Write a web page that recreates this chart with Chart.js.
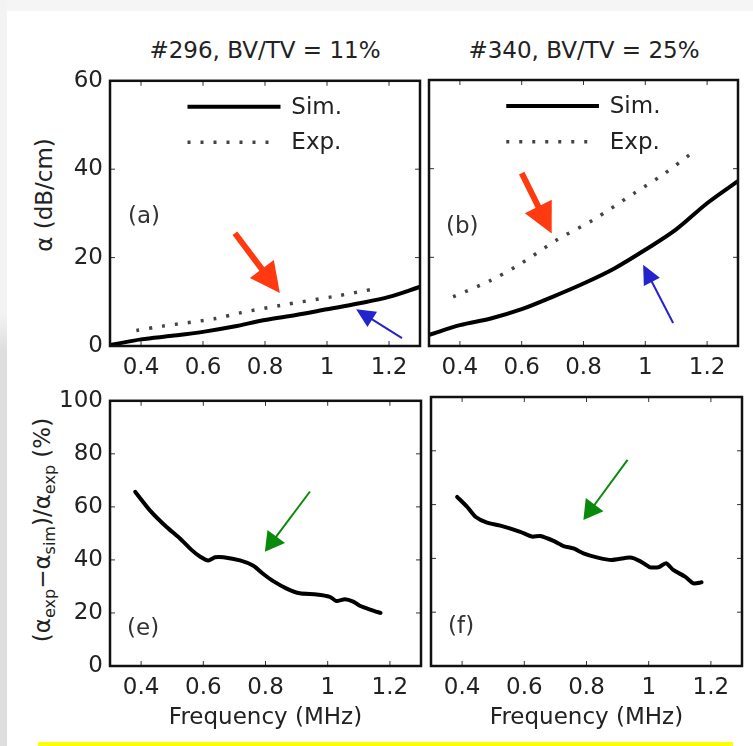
<!DOCTYPE html>
<html>
<head>
<meta charset="utf-8">
<script src="https://cdn.jsdelivr.net/npm/chart.js@4.4.0/dist/chart.umd.min.js"></script>
<style>
  body { margin: 0; background: #fff; }
  #page { position: relative; width: 753px; height: 746px; overflow: hidden; background: #fff;
          font-family: "DejaVu Sans", sans-serif; color: #222; }
  #page canvas { position: absolute; }
  .lbl { position: absolute; white-space: nowrap; font-size: 23px; transform: translate(-50%, -50%); }
  .rot { transform: translate(-50%, -50%) rotate(-90deg); }
  .lbl sub { font-size: 16px; vertical-align: -5px; line-height: 0; }
  #topband { position: absolute; left: 0; top: 0; width: 753px; height: 11px; background: #f5f5f5; }
  #leftstrip { position: absolute; left: 0; top: 0; width: 7px; height: 746px;
               background: linear-gradient(to bottom, #f3f3f3 0%, #f3f3f3 42%, #dedede 47%, #dedede 100%); }
  #yellow { position: absolute; left: 38px; top: 742px; width: 695px; height: 4px; background: #ffff00; }
</style>
</head>
<body>
<div id="page">
  <div id="topband"></div>
  <div id="leftstrip"></div>
  <div id="yellow"></div>

  <div class="lbl" style="left:265px; top:50px;">#296, BV/TV = 11%</div>
  <div class="lbl" style="left:584px; top:50px;">#340, BV/TV = 25%</div>
  <div class="lbl rot" style="left:44px; top:195px;">α (dB/cm)</div>
  <div class="lbl rot" style="left:42px; top:530px;">(α<sub>exp</sub>−α<sub>sim</sub>)/α<sub>exp</sub> (%)</div>

  <canvas id="cA" width="424" height="320" style="left:0; top:60px;"></canvas>
  <canvas id="cB" width="329" height="320" style="left:424px; top:60px;"></canvas>
  <canvas id="cE" width="426" height="366" style="left:0; top:380px;"></canvas>
  <canvas id="cF" width="327" height="366" style="left:426px; top:380px;"></canvas>
</div>

<script>
const xTicks = [0.4, 0.6, 0.8, 1, 1.2];
const yTicksTop = [0, 20, 40, 60];
const yTicksBottom = [0, 20, 40, 60, 80, 100];

// (a) #296, attenuation in dB/cm
const freqSimA = [0.3, 0.4, 0.5, 0.6, 0.7, 0.8, 0.9, 1.0, 1.1, 1.2, 1.3];
const simA = [0.2, 1.5, 2.3, 3.2, 4.4, 5.9, 7.0, 8.3, 9.6, 11.1, 13.4];
const freqExpA = [0.385, 0.47, 0.64, 0.72, 0.85, 1.03, 1.16];
const expA = [3.5, 4.5, 6.2, 7.5, 9.2, 11.3, 13.0];

// (b) #340
const freqSimB = [0.3, 0.4, 0.5, 0.6, 0.7, 0.8, 0.9, 1.0, 1.1, 1.2, 1.3];
const simB = [2.5, 4.7, 6.2, 8.3, 11.1, 14.1, 17.5, 21.7, 26.3, 32.2, 37.2];
const freqExpB = [0.378, 0.497, 0.6, 0.713, 0.83, 0.967, 1.06, 1.167];
const expB = [11.1, 14.7, 18.7, 23.9, 28.4, 34.6, 38.8, 44.4];

// (e) relative error, #296
const freqE = [0.381, 0.429, 0.482, 0.525, 0.563, 0.589, 0.616, 0.638, 0.665, 0.718, 0.761, 0.793,
               0.825, 0.868, 0.91, 0.964, 1.007, 1.028, 1.055, 1.082, 1.103, 1.141, 1.17];
const errE = [65.7, 58.6, 52.4, 48.1, 43.7, 41.3, 39.8, 41.0, 41.0, 39.8, 37.8, 34.7,
              32.0, 29.2, 27.4, 27.0, 26.1, 24.5, 25.2, 24.3, 22.7, 21.1, 20.0];

// (f) relative error, #340
const freqF = [0.384, 0.416, 0.443, 0.48, 0.523, 0.587, 0.625, 0.651, 0.694, 0.726, 0.758, 0.79,
               0.833, 0.881, 0.94, 0.972, 1.004, 1.031, 1.056, 1.079, 1.117, 1.144, 1.17];
const errF = [62.9, 59.2, 55.5, 53.3, 52.2, 49.9, 48.1, 48.3, 46.5, 44.6, 43.7, 41.9,
              40.4, 39.4, 40.3, 39.0, 36.7, 36.7, 38.2, 35.7, 33.2, 30.7, 31.1];

const FONT = { family: "DejaVu Sans", size: 23 };
const RED = "#ff3a10", BLUE = "#2424cc", GREEN = "#0a8a0a";
const DOTS = [3, 10];

function pts(xs, ys) {
  return xs.map((x, i) => ({ x: x, y: ys[i] }));
}

// frame, inward ticks, legend, panel letter and arrows
const panelDecor = {
  id: "panelDecor",
  afterDatasetsDraw(chart, args, opts) {
    const { ctx, chartArea: a, scales: { x, y } } = chart;
    const w = a.right - a.left, h = a.bottom - a.top;
    ctx.save();

    ctx.strokeStyle = "#333";
    ctx.lineWidth = 1;
    ctx.beginPath();
    x.ticks.forEach(t => {
      const px = x.getPixelForValue(t.value);
      ctx.moveTo(px, a.bottom); ctx.lineTo(px, a.bottom - 5);
      ctx.moveTo(px, a.top); ctx.lineTo(px, a.top + 5);
    });
    y.ticks.forEach(t => {
      const py = y.getPixelForValue(t.value);
      ctx.moveTo(a.left, py); ctx.lineTo(a.left + 5, py);
      ctx.moveTo(a.right, py); ctx.lineTo(a.right - 5, py);
    });
    ctx.stroke();

    ctx.lineWidth = 2.5;
    ctx.strokeStyle = "#111";
    ctx.strokeRect(a.left, a.top, w, h);

    ctx.fillStyle = "#222";
    ctx.font = FONT.size + "px " + FONT.family;
    ctx.textBaseline = "middle";
    ctx.textAlign = "left";

    if (opts.legend) {
      const x0 = a.left + 0.25 * w, x1 = a.left + 0.55 * w, tx = a.left + 0.585 * w;
      const r1 = a.top + 0.098 * h, r2 = a.top + 0.232 * h;
      ctx.strokeStyle = "#000";
      ctx.lineWidth = 4;
      ctx.beginPath(); ctx.moveTo(x0, r1); ctx.lineTo(x1, r1); ctx.stroke();
      ctx.strokeStyle = "#444";
      ctx.lineWidth = 3.5;
      ctx.setLineDash(DOTS);
      ctx.beginPath(); ctx.moveTo(x0, r2); ctx.lineTo(x1 - 8, r2); ctx.stroke();
      ctx.setLineDash([]);
      ctx.fillText("Sim.", tx, r1 + 1);
      ctx.fillText("Exp.", tx, r2 + 1);
    }

    if (opts.letter) {
      ctx.fillStyle = "#333";
      ctx.fillText(opts.letter, a.left + opts.letterPos[0] * w, a.top + opts.letterPos[1] * h);
    }

    (opts.arrows || []).forEach(ar => {
      const x1 = x.getPixelForValue(ar.from[0]), y1 = y.getPixelForValue(ar.from[1]);
      const x2 = x.getPixelForValue(ar.to[0]), y2 = y.getPixelForValue(ar.to[1]);
      const len = Math.hypot(x2 - x1, y2 - y1);
      const ux = (x2 - x1) / len, uy = (y2 - y1) / len;
      const bx = x2 - ux * ar.head, by = y2 - uy * ar.head;
      ctx.strokeStyle = ar.color;
      ctx.fillStyle = ar.color;
      ctx.lineWidth = ar.width;
      ctx.beginPath(); ctx.moveTo(x1, y1); ctx.lineTo(bx + ux * 2, by + uy * 2); ctx.stroke();
      ctx.beginPath();
      ctx.moveTo(x2, y2);
      ctx.lineTo(bx - uy * ar.half, by + ux * ar.half);
      ctx.lineTo(bx + uy * ar.half, by - ux * ar.half);
      ctx.closePath();
      ctx.fill();
    });

    ctx.restore();
  }
};

function makePanel(id, datasets, yTicks, yMax, opts) {
  const ctx = document.getElementById(id).getContext("2d");
  new Chart(ctx, {
    type: "line",
    data: { datasets: datasets },
    options: {
      responsive: false,
      animation: false,
      layout: { padding: { top: opts.padTop, right: opts.padRight, left: 0, bottom: 0 } },
      plugins: {
        legend: { display: false },
        tooltip: { enabled: false },
        panelDecor: opts.decor,
      },
      elements: { point: { radius: 0 } },
      scales: {
        x: {
          type: "linear",
          min: 0.3,
          max: 1.3,
          afterBuildTicks: s => { s.ticks = xTicks.map(v => ({ value: v })); },
          afterFit: s => { s.height = opts.xHeight; },
          grid: { display: false, drawTicks: false },
          border: { display: false },
          ticks: { font: FONT, color: "#222", padding: 8, maxRotation: 0, callback: v => String(v) },
          title: opts.xTitle
            ? { display: true, text: "Frequency (MHz)", font: FONT, color: "#222", padding: { top: 0, bottom: 14 } }
            : { display: false },
        },
        y: {
          min: 0,
          max: yMax,
          afterBuildTicks: s => { s.ticks = yTicks.map(v => ({ value: v })); },
          afterFit: s => { s.width = opts.yWidth; },
          grid: { display: false, drawTicks: false },
          border: { display: false },
          ticks: { display: opts.yLabels, font: FONT, color: "#222", padding: 7 },
        },
      },
    },
    plugins: [panelDecor],
  });
}

function simSet(xs, ys) {
  return { data: pts(xs, ys), borderColor: "#000", borderWidth: 4, tension: 0.4, cubicInterpolationMode: "monotone", fill: false };
}
function expSet(xs, ys) {
  return { data: pts(xs, ys), borderColor: "#444", borderWidth: 3.5, borderDash: DOTS, tension: 0.3, fill: false };
}
function errSet(xs, ys) {
  return { data: pts(xs, ys), borderColor: "#000", borderWidth: 4, tension: 0.2, borderJoinStyle: "round", borderCapStyle: "round", fill: false };
}

makePanel("cA", [simSet(freqSimA, simA), expSet(freqExpA, expA)], yTicksTop, 60, {
  padTop: 20, padRight: 4, yWidth: 110, xHeight: 34, yLabels: true, xTitle: false,
  decor: {
    legend: true, letter: "(a)", letterPos: [0.058, 0.515],
    arrows: [
      { from: [0.703, 25.5], to: [0.848, 12.0], color: RED, width: 6, head: 30, half: 15 },
      { from: [1.242, 1.8], to: [1.094, 8.3], color: BLUE, width: 2, head: 19, half: 9 },
    ],
  },
});

makePanel("cB", [simSet(freqSimB, simB), expSet(freqExpB, expB)], yTicksTop, 60, {
  padTop: 20, padRight: 15, yWidth: 5, xHeight: 34, yLabels: false, xTitle: false,
  decor: {
    legend: true, letter: "(b)", letterPos: [0.055, 0.553],
    arrows: [
      { from: [0.6, 39.0], to: [0.697, 25.4], color: RED, width: 6, head: 30, half: 15 },
      { from: [1.09, 5.2], to: [0.993, 18.3], color: BLUE, width: 2, head: 19, half: 9 },
    ],
  },
});

makePanel("cE", [errSet(freqE, errE)], yTicksBottom, 100, {
  padTop: 17, padRight: 5, yWidth: 110, xHeight: 80, yLabels: true, xTitle: true,
  decor: {
    letter: "(e)", letterPos: [0.055, 0.859],
    arrows: [{ from: [0.943, 65.8], to: [0.798, 43.1], color: GREEN, width: 2, head: 19, half: 11 }],
  },
});

makePanel("cF", [errSet(freqF, errF)], yTicksBottom, 100, {
  padTop: 17, padRight: 11, yWidth: 5, xHeight: 80, yLabels: false, xTitle: true,
  decor: {
    letter: "(f)", letterPos: [0.055, 0.855],
    arrows: [{ from: [0.932, 76.6], to: [0.79, 54.3], color: GREEN, width: 2, head: 19, half: 11 }],
  },
});
</script>
</body>
</html>
